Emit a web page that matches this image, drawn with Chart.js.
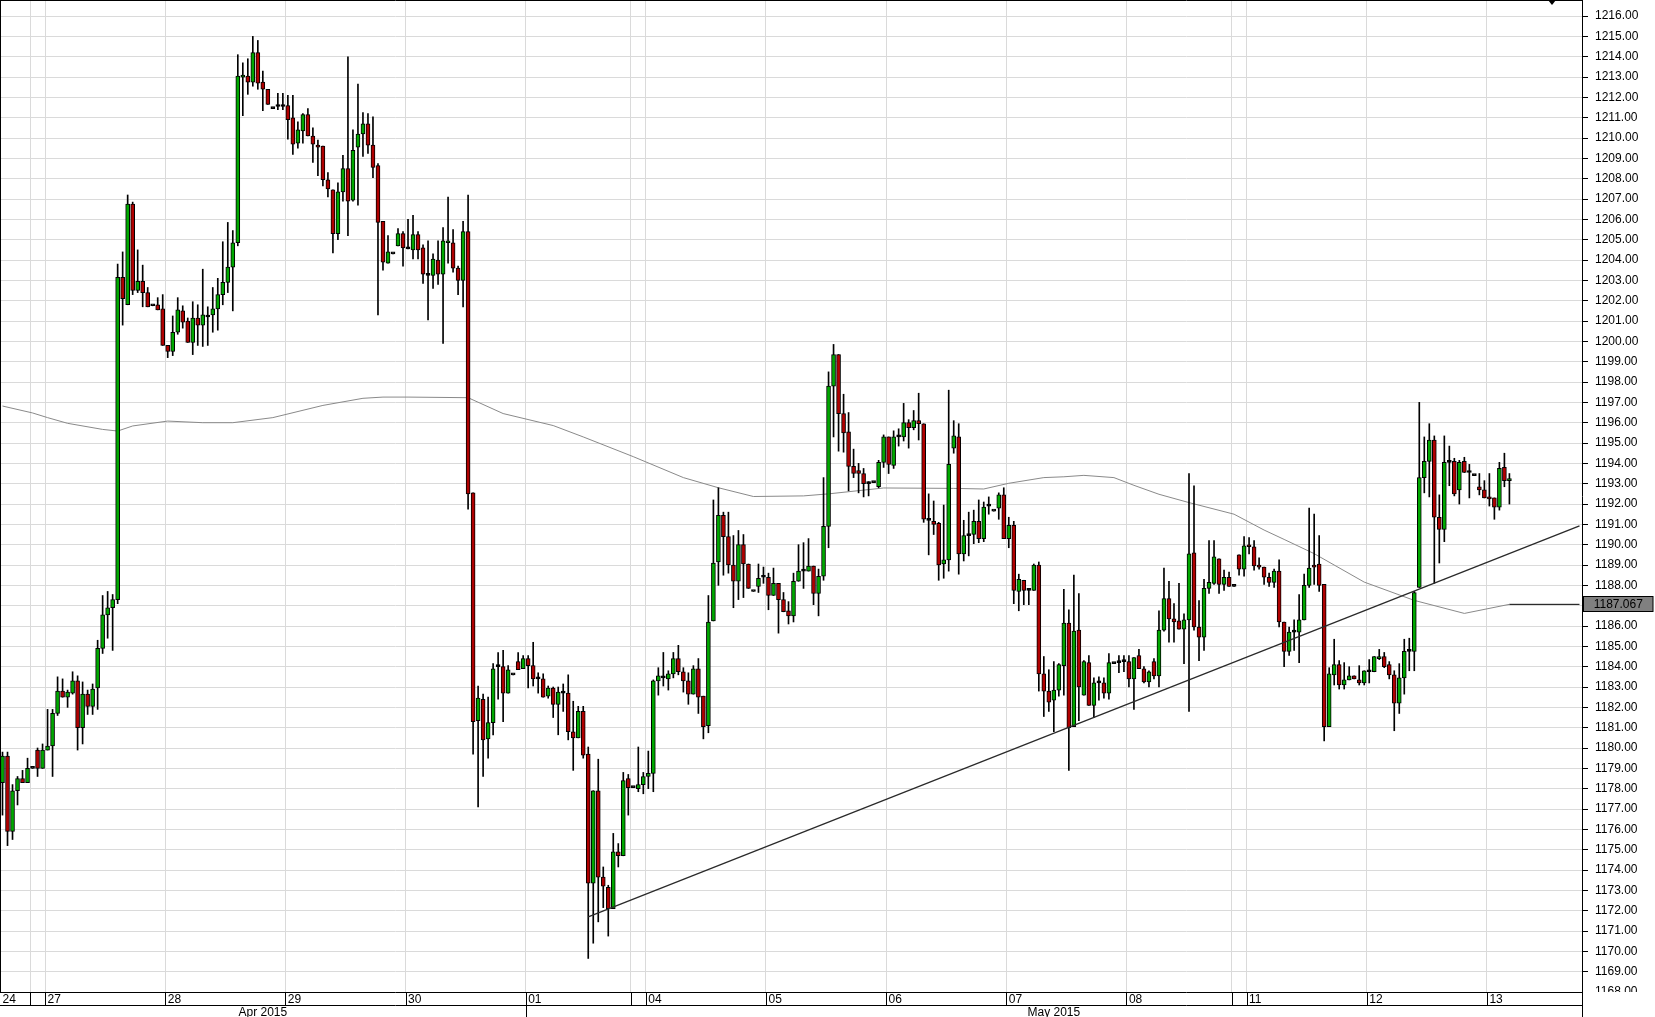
<!DOCTYPE html>
<html>
<head>
<meta charset="utf-8">
<script src="https://cdn.jsdelivr.net/npm/chart.js@4.4.1/dist/chart.umd.min.js"></script>
<style>
    html, body { margin: 0; padding: 0; background: #fff; }
    #wrap { width: 1655px; height: 1017px; position: relative; }
</style>
</head>
<body>
<div id="wrap"><canvas id="chart-gold"></canvas></div>
<script>
// first hourly slot of each day block and its label ("" = short sunday session)
const dayStarts = [0, 6, 9, 33, 57, 81, 105, 126, 129, 153, 177, 201, 225, 246, 249, 273, 297];
const dayLabels = ["24", "", "27", "28", "29", "30", "01", "", "04", "05", "06", "07", "08", "", "11", "12", "13"];
const monthStarts = [0, 105];
const monthLabels = ["Apr 2015", "May 2015"];
const slotCount = 316;

// hourly candles, one line per day block
const openVals = [
    1178.3, 1179.6, 1175.9, 1177.9, 1178.5, 1178.3,
    1179.0, 1179.9, 1179.0,
    1179.9, 1180.1, 1181.7, 1182.8, 1182.5, 1182.7, 1183.3, 1181.0, 1182.65, 1182.05, 1182.95, 1184.9, 1186.55, 1186.9, 1187.3, 1203.15, 1201.8, 1206.75, 1202.5, 1202.95, 1202.4, 1201.75, 1201.8, 1201.6,
    1199.8, 1199.5, 1200.45, 1201.5, 1201.0, 1199.95, 1201.15, 1200.8, 1201.2, 1201.3, 1201.6, 1202.3, 1202.9, 1203.65, 1204.85, 1213.0, 1213.05, 1212.75, 1214.2, 1212.75, 1212.4, 1211.45, 1211.55, 1211.55,
    1211.6, 1211.0, 1209.75, 1210.35, 1211.15, 1210.1, 1209.65, 1209.6, 1207.95, 1207.45, 1205.3, 1207.35, 1208.5, 1206.95, 1209.55, 1210.2, 1210.7, 1209.65, 1208.65, 1205.9, 1203.85, 1204.3, 1204.7, 1205.3,
    1204.55, 1204.5, 1205.25, 1204.6, 1203.25, 1203.25, 1204.0, 1203.3, 1204.85, 1204.85, 1203.6, 1203.0, 1205.4, 1192.55, 1181.35, 1182.4, 1180.45, 1181.25, 1184.0, 1184.0, 1182.7, 1183.6, 1184.25, 1183.9,
    1184.4, 1184.05, 1183.4, 1183.4, 1182.55, 1182.95, 1182.15, 1182.7, 1182.7, 1180.8, 1180.5, 1181.8, 1179.7, 1173.35, 1177.9, 1173.65, 1173.15, 1172.1, 1174.9, 1174.7, 1178.5,
    1178.05, 1178.0, 1178.2,
    1178.6, 1178.75, 1183.3, 1183.45, 1183.4, 1183.65, 1184.4, 1183.75, 1183.3, 1182.65, 1183.9, 1182.55, 1181.1, 1186.25, 1189.15, 1191.45, 1190.4, 1189.0, 1188.2, 1190.0, 1189.05, 1187.7, 1187.95, 1188.4,
    1188.4, 1187.5, 1188.1, 1187.3, 1186.75, 1186.5, 1188.2, 1188.7, 1188.7, 1188.95, 1187.6, 1188.45, 1190.9, 1197.8, 1199.35, 1196.45, 1195.55, 1193.85, 1193.65, 1193.5, 1193.0, 1193.05, 1192.85, 1194.05,
    1195.3, 1193.9, 1195.3, 1195.3, 1196.0, 1195.75, 1196.1, 1195.95, 1191.2, 1191.15, 1191.05, 1189.05, 1189.25, 1194.75, 1195.3, 1189.55, 1190.45, 1190.5, 1191.15, 1190.3, 1191.9, 1191.65, 1191.8, 1192.45,
    1190.3, 1190.95, 1187.7, 1188.25, 1187.75, 1187.75, 1189.0, 1183.65, 1182.8, 1182.35, 1182.85, 1184.05, 1186.15, 1181.05, 1185.8, 1182.6, 1184.2, 1182.1, 1183.2, 1183.2, 1182.7, 1184.15, 1184.2, 1184.25,
    1184.25, 1183.4, 1184.55, 1183.9, 1183.25, 1184.25, 1183.55, 1185.8, 1187.35, 1186.35, 1186.25, 1185.85, 1186.3, 1189.6, 1185.95, 1185.45, 1187.85, 1188.1, 1189.3, 1188.05, 1188.4,
    1187.95, 1189.5, 1188.8,
    1189.95, 1189.9, 1189.0, 1188.9, 1188.4, 1188.15, 1188.7, 1186.2, 1184.75, 1185.7, 1185.7, 1186.3, 1188.0, 1189.0, 1189.05, 1188.05, 1181.05, 1183.6, 1184.1, 1183.1, 1183.35, 1183.55, 1183.35, 1183.2,
    1183.75, 1183.75, 1184.4, 1184.5, 1184.1, 1183.6, 1182.2, 1183.45, 1184.75, 1184.75, 1187.9, 1193.3, 1194.1, 1195.15, 1191.35, 1190.75, 1194.05, 1194.1, 1192.7, 1194.1, 1193.55, 1193.4, 1192.85, 1192.7,
    1192.35, 1192.3, 1191.85, 1193.8, 1193.15
];
const highVals = [
    1179.8, 1179.8, 1178.2, 1178.6, 1178.9, 1179.5,
    1179.0, 1180.0, 1180.2,
    1181.9, 1181.9, 1183.5, 1183.4, 1182.85, 1183.75, 1183.55, 1183.25, 1182.85, 1183.15, 1185.3, 1187.5, 1187.7, 1187.55, 1203.8, 1204.4, 1207.2, 1206.85, 1204.5, 1203.75, 1202.65, 1201.75, 1202.15, 1202.3,
    1199.8, 1201.25, 1202.15, 1201.75, 1201.15, 1201.95, 1201.8, 1203.55, 1201.7, 1202.65, 1203.1, 1204.9, 1205.85, 1205.45, 1214.1, 1213.7, 1213.9, 1215.0, 1214.8, 1213.3, 1212.4, 1211.45, 1212.2, 1212.2,
    1212.1, 1212.1, 1210.8, 1211.2, 1211.45, 1210.5, 1209.9, 1209.6, 1208.3, 1207.45, 1207.8, 1209.15, 1214.0, 1210.4, 1212.65, 1211.25, 1211.2, 1211.05, 1208.75, 1205.9, 1205.2, 1204.3, 1205.55, 1205.4,
    1206.0, 1206.2, 1205.4, 1204.75, 1204.95, 1204.3, 1204.95, 1205.6, 1207.1, 1205.5, 1203.7, 1205.9, 1207.2, 1192.55, 1183.05, 1182.65, 1182.5, 1184.15, 1184.7, 1184.8, 1184.05, 1183.6, 1184.7, 1184.55,
    1184.55, 1185.2, 1183.7, 1183.65, 1183.05, 1183.0, 1183.0, 1183.15, 1183.6, 1182.3, 1182.05, 1182.05, 1180.05, 1177.9, 1179.45, 1174.15, 1173.25, 1175.8, 1175.3, 1178.8, 1178.7,
    1178.05, 1180.05, 1178.8,
    1179.85, 1183.35, 1183.95, 1184.7, 1183.8, 1184.7, 1185.05, 1183.95, 1183.7, 1184.05, 1184.4, 1182.55, 1187.5, 1192.2, 1192.8, 1191.6, 1191.6, 1190.45, 1190.7, 1190.5, 1189.05, 1187.7, 1189.05, 1188.9,
    1188.6, 1188.85, 1188.1, 1187.65, 1187.2, 1188.6, 1190.0, 1190.1, 1190.3, 1188.95, 1188.8, 1193.3, 1198.5, 1199.85, 1199.35, 1197.4, 1196.5, 1194.7, 1194.0, 1193.75, 1193.1, 1193.05, 1194.15, 1195.4,
    1195.3, 1195.6, 1195.7, 1196.95, 1196.15, 1196.6, 1197.45, 1195.95, 1192.5, 1192.15, 1191.1, 1191.95, 1197.6, 1196.1, 1195.95, 1191.2, 1191.6, 1191.7, 1192.2, 1192.1, 1192.35, 1191.65, 1192.55, 1192.8,
    1191.35, 1191.15, 1188.55, 1188.25, 1187.8, 1189.05, 1189.15, 1184.5, 1183.85, 1184.25, 1184.15, 1187.8, 1186.8, 1188.5, 1187.6, 1184.3, 1184.55, 1183.45, 1183.5, 1183.45, 1184.65, 1184.15, 1184.55, 1184.55,
    1184.55, 1184.45, 1184.85, 1184.0, 1183.8, 1184.4, 1186.75, 1188.85, 1188.2, 1187.1, 1188.1, 1186.6, 1193.5, 1192.9, 1187.25, 1188.3, 1190.2, 1190.2, 1189.3, 1188.75, 1188.65,
    1187.95, 1189.5, 1190.4,
    1190.35, 1190.2, 1189.35, 1188.9, 1188.6, 1188.8, 1189.25, 1186.2, 1185.95, 1186.3, 1187.55, 1188.55, 1191.8, 1191.5, 1190.45, 1188.05, 1183.95, 1185.35, 1184.3, 1184.2, 1184.0, 1183.55, 1184.05, 1183.8,
    1184.35, 1184.5, 1184.85, 1184.7, 1184.25, 1183.8, 1184.15, 1185.35, 1185.4, 1187.7, 1197.0, 1195.3, 1195.95, 1195.35, 1192.45, 1195.35, 1194.85, 1194.25, 1194.15, 1194.3, 1193.95, 1193.4, 1193.5, 1193.15,
    1193.5, 1192.3, 1194.05, 1194.5, 1193.5
];
const lowVals = [
    1176.7, 1175.2, 1175.5, 1177.2, 1178.3, 1178.3,
    1179.0, 1178.6, 1179.0,
    1179.9, 1178.6, 1181.6, 1182.5, 1182.0, 1182.65, 1179.9, 1180.2, 1181.65, 1181.65, 1181.9, 1184.65, 1185.4, 1184.8, 1187.1, 1200.8, 1201.8, 1202.3, 1202.4, 1201.7, 1201.7, 1201.75, 1201.55, 1199.8,
    1199.2, 1199.3, 1200.35, 1200.65, 1199.95, 1199.35, 1199.8, 1199.75, 1199.8, 1200.45, 1200.55, 1201.8, 1202.4, 1201.5, 1204.7, 1211.1, 1212.15, 1212.55, 1212.4, 1211.35, 1211.65, 1211.45, 1211.4, 1211.4,
    1209.95, 1209.2, 1209.5, 1209.75, 1210.1, 1208.8, 1208.15, 1207.65, 1207.1, 1204.35, 1205.0, 1206.9, 1205.2, 1206.9, 1206.7, 1209.1, 1209.25, 1208.05, 1201.3, 1203.5, 1203.85, 1204.3, 1204.7, 1203.7,
    1204.55, 1204.05, 1204.05, 1202.85, 1201.05, 1202.6, 1202.8, 1199.9, 1203.85, 1203.4, 1202.3, 1201.7, 1191.75, 1179.7, 1177.1, 1178.6, 1179.5, 1180.65, 1182.4, 1181.3, 1182.7, 1183.6, 1183.85, 1183.9,
    1182.95, 1183.05, 1182.7, 1182.5, 1182.45, 1181.5, 1180.65, 1181.8, 1180.4, 1178.9, 1180.5, 1179.5, 1169.65, 1170.4, 1171.45, 1172.15, 1170.75, 1172.1, 1174.15, 1174.7, 1176.7,
    1178.05, 1177.85, 1177.75,
    1178.0, 1177.85, 1182.6, 1183.05, 1182.85, 1183.45, 1183.6, 1182.75, 1182.15, 1182.65, 1181.7, 1180.45, 1180.75, 1186.25, 1188.0, 1188.5, 1188.6, 1186.9, 1187.3, 1187.4, 1187.85, 1187.7, 1187.65, 1188.1,
    1186.8, 1187.5, 1185.65, 1186.7, 1186.1, 1186.2, 1188.2, 1187.85, 1188.7, 1187.05, 1186.5, 1188.25, 1189.85, 1195.3, 1194.6, 1194.55, 1192.65, 1193.3, 1192.55, 1192.35, 1192.4, 1193.05, 1192.8, 1193.8,
    1193.5, 1193.75, 1194.85, 1195.1, 1194.75, 1195.65, 1195.15, 1191.1, 1189.5, 1190.5, 1188.25, 1188.35, 1188.7, 1194.5, 1188.55, 1189.2, 1189.45, 1190.05, 1190.1, 1190.15, 1191.5, 1191.65, 1191.25, 1190.3,
    1189.85, 1187.1, 1186.75, 1187.05, 1187.05, 1187.75, 1182.8, 1181.55, 1181.8, 1180.8, 1182.55, 1182.6, 1178.9, 1181.05, 1181.35, 1182.6, 1182.1, 1181.5, 1182.35, 1182.45, 1182.4, 1184.15, 1183.7, 1183.75,
    1183.0, 1181.9, 1183.9, 1183.2, 1183.0, 1183.4, 1183.0, 1185.75, 1185.2, 1185.2, 1185.85, 1184.15, 1181.8, 1185.8, 1184.3, 1184.8, 1187.6, 1188.05, 1187.6, 1187.75, 1187.95,
    1187.95, 1188.5, 1188.45,
    1189.55, 1188.75, 1188.8, 1188.05, 1187.95, 1187.9, 1185.95, 1184.0, 1184.55, 1184.8, 1184.2, 1186.3, 1187.9, 1188.05, 1187.7, 1180.35, 1181.05, 1183.1, 1182.9, 1182.9, 1183.35, 1183.4, 1183.1, 1183.1,
    1183.2, 1183.75, 1184.35, 1183.95, 1183.4, 1180.85, 1181.7, 1182.65, 1183.8, 1183.8, 1187.9, 1192.55, 1192.35, 1188.1, 1189.1, 1190.15, 1192.9, 1192.4, 1192.0, 1193.55, 1192.3, 1193.4, 1192.45, 1192.3,
    1191.9, 1191.25, 1191.7, 1192.85, 1192.0
];
const closeVals = [
    1179.6, 1175.9, 1177.9, 1178.5, 1178.3, 1179.0,
    1179.0, 1179.0, 1179.9,
    1180.1, 1181.7, 1182.8, 1182.5, 1182.75, 1183.3, 1181.0, 1182.65, 1182.05, 1182.9, 1184.9, 1186.55, 1186.9, 1187.3, 1203.15, 1202.1, 1206.75, 1202.5, 1202.95, 1202.4, 1201.7, 1201.75, 1201.55, 1199.8,
    1199.5, 1200.45, 1201.55, 1200.95, 1199.95, 1201.15, 1200.8, 1201.3, 1201.2, 1201.6, 1202.3, 1202.9, 1203.65, 1204.85, 1213.05, 1213.1, 1212.75, 1214.2, 1212.7, 1212.4, 1211.65, 1211.45, 1211.55, 1211.55,
    1210.9, 1209.7, 1210.4, 1211.15, 1210.1, 1209.7, 1209.55, 1207.95, 1207.5, 1205.3, 1207.35, 1208.5, 1206.9, 1209.4, 1210.2, 1210.7, 1209.65, 1208.55, 1205.85, 1203.9, 1204.4, 1204.3, 1205.3, 1204.6,
    1204.55, 1205.25, 1204.5, 1203.3, 1203.25, 1204.05, 1203.3, 1204.95, 1204.95, 1203.6, 1203.0, 1205.4, 1192.5, 1181.3, 1182.45, 1180.4, 1181.25, 1183.9, 1184.0, 1182.7, 1183.85, 1183.6, 1183.85, 1184.4,
    1184.05, 1183.4, 1183.4, 1182.5, 1182.95, 1182.15, 1182.75, 1182.7, 1180.8, 1180.5, 1181.8, 1179.65, 1173.35, 1177.9, 1173.65, 1173.2, 1172.1, 1174.9, 1174.7, 1178.4, 1178.05,
    1178.05, 1178.2, 1178.6,
    1178.75, 1183.3, 1183.55, 1183.45, 1183.65, 1184.4, 1183.75, 1183.3, 1182.65, 1183.9, 1182.5, 1181.05, 1186.2, 1189.1, 1191.45, 1190.4, 1189.0, 1188.2, 1190.0, 1189.05, 1187.85, 1187.7, 1188.35, 1188.4,
    1187.5, 1188.1, 1187.3, 1186.7, 1186.5, 1188.2, 1188.7, 1188.7, 1188.95, 1187.6, 1188.45, 1190.9, 1197.8, 1199.35, 1196.45, 1195.5, 1193.85, 1193.5, 1193.5, 1193.0, 1193.0, 1193.05, 1194.05, 1195.3,
    1193.95, 1195.3, 1195.3, 1196.0, 1195.75, 1196.1, 1195.95, 1191.25, 1191.2, 1191.0, 1189.0, 1189.25, 1193.95, 1195.35, 1189.55, 1190.45, 1190.45, 1191.15, 1190.3, 1191.85, 1191.9, 1191.65, 1192.45, 1190.3,
    1190.95, 1187.75, 1188.3, 1187.75, 1187.75, 1189.0, 1183.65, 1182.8, 1182.25, 1182.85, 1184.1, 1186.15, 1181.0, 1185.75, 1183.0, 1184.25, 1182.1, 1183.2, 1183.2, 1182.7, 1184.2, 1184.15, 1184.2, 1184.25,
    1183.4, 1184.45, 1183.9, 1183.25, 1183.75, 1183.55, 1185.8, 1187.35, 1186.35, 1186.2, 1185.85, 1186.3, 1189.55, 1185.95, 1185.45, 1187.85, 1188.15, 1189.4, 1188.05, 1188.4, 1187.95,
    1187.95, 1188.8, 1189.95,
    1189.9, 1188.95, 1188.9, 1188.4, 1188.15, 1188.7, 1186.2, 1184.75, 1185.7, 1185.7, 1186.3, 1188.0, 1188.85, 1188.9, 1188.0, 1181.05, 1183.65, 1184.1, 1183.1, 1183.35, 1183.55, 1183.4, 1183.2, 1183.8,
    1183.75, 1184.5, 1184.5, 1184.0, 1183.6, 1182.2, 1183.45, 1184.75, 1184.75, 1187.65, 1193.3, 1194.1, 1195.15, 1191.35, 1190.75, 1194.05, 1194.05, 1192.5, 1194.05, 1193.55, 1193.55, 1193.4, 1192.7, 1192.3,
    1192.25, 1191.85, 1193.75, 1193.15, 1193.25
];

// moving average, read at these candle slots
const maIdx = [0, 6, 9, 13, 20, 23, 26, 33, 40, 46, 54, 64, 72, 76, 81, 93, 100, 110, 116, 126, 136, 143, 150, 160, 165, 176, 190, 196, 201, 208, 212, 216, 222, 226, 231, 237, 246, 252, 256, 262, 272, 282, 292, 301];
const maVals = [1196.82, 1196.48, 1196.25, 1195.97, 1195.67, 1195.59, 1195.84, 1196.08, 1196.0, 1196.0, 1196.25, 1196.85, 1197.2, 1197.26, 1197.26, 1197.23, 1196.45, 1195.86, 1195.3, 1194.33, 1193.3, 1192.8, 1192.37, 1192.4, 1192.5, 1192.79, 1192.77, 1192.74, 1193.02, 1193.3, 1193.34, 1193.41, 1193.3, 1192.92, 1192.48, 1192.07, 1191.5, 1190.72, 1190.26, 1189.56, 1188.16, 1187.26, 1186.62, 1187.067];
const maLast = 1187.067;

// support trend line
const trendIdx = [117, 315];
const trendVals = [1171.7, 1190.93];

const chartGold = document.getElementById("chart-gold");
const n = openVals.length;

// category slots, one per hour
const categories = [];
for (let i = 0; i < slotCount; i++) {
    let d = 0;
    while (d + 1 < dayStarts.length && dayStarts[d + 1] <= i) d++;
    categories.push((dayLabels[d] || "Sun") + " " + (i - dayStarts[d]));
}

const bodies = openVals.map((o, i) => [o, closeVals[i]]);
const wicks = highVals.map((h, i) => [
    Math.min(lowVals[i], openVals[i], closeVals[i]),
    Math.max(h, openVals[i], closeVals[i])
]);

const maData = new Array(slotCount).fill(null);
maIdx.forEach((k, j) => { maData[k] = maVals[j]; });
const maExt = new Array(slotCount).fill(null);
maExt[n - 1] = maLast;
maExt[slotCount - 1] = maLast;
const trendData = new Array(slotCount).fill(null);
trendIdx.forEach((k, j) => { trendData[k] = trendVals[j]; });

function bodyColor(ctx) {
    const i = ctx.dataIndex;
    if (closeVals[i] > openVals[i]) return "#00a800";
    if (closeVals[i] < openVals[i]) return "#b00000";
    return "#000";
}

function noPad(scale) {
    scale.paddingTop = 0;
    scale.paddingBottom = 0;
    scale.paddingLeft = 0;
    scale.paddingRight = 0;
}

const framePlugin = {
    id: "frame",
    beforeDraw(chart) {
        const ctx = chart.ctx;
        ctx.save();
        ctx.fillStyle = "#fff";
        ctx.fillRect(0, 0, chart.width, chart.height);
        ctx.restore();
    },
    afterDraw(chart) {
        const ctx = chart.ctx;
        const area = chart.chartArea;
        const xs = chart.scales.x;
        const ys = chart.scales.y;
        const slotW = xs.width / slotCount;
        const edge = (s) => Math.round(xs.getPixelForValue(s) - slotW / 2) + 0.5;

        ctx.save();
        // the lowest price label is cut by the date rows
        ctx.fillStyle = "#fff";
        ctx.fillRect(area.right + 1, area.bottom, chart.width - area.right, chart.height - area.bottom);

        ctx.strokeStyle = "#000";
        ctx.lineWidth = 1;
        ctx.beginPath();
        ctx.moveTo(0.5, 0);
        ctx.lineTo(0.5, area.bottom);
        ctx.moveTo(0, 0.5);
        ctx.lineTo(area.right, 0.5);
        ctx.moveTo(0, area.bottom + 0.5);
        ctx.lineTo(area.right, area.bottom + 0.5);
        const rowY = Math.round(xs.bottom) + 0.5;
        ctx.moveTo(0, rowY);
        ctx.lineTo(area.right, rowY);
        dayStarts.forEach((s) => {
            if (s === 0) return;
            ctx.moveTo(edge(s), area.bottom);
            ctx.lineTo(edge(s), rowY);
        });
        monthStarts.forEach((s) => {
            if (s === 0) return;
            ctx.moveTo(edge(s), rowY);
            ctx.lineTo(edge(s), chart.height);
        });
        ctx.moveTo(Math.round(area.right) + 0.5, area.bottom);
        ctx.lineTo(Math.round(area.right) + 0.5, chart.height);
        ctx.stroke();

        // current value box of the moving average
        const py = Math.round(ys.getPixelForValue(maLast));
        const bx = Math.round(area.right) + 1.5;
        const bw = chart.width - bx - 2;
        ctx.fillStyle = "#808080";
        ctx.fillRect(bx, py - 7.5, bw, 15);
        ctx.strokeRect(bx, py - 7.5, bw, 15);
        ctx.fillStyle = "#000";
        ctx.font = "12px 'Liberation Sans', Arial, sans-serif";
        ctx.textAlign = "center";
        ctx.textBaseline = "middle";
        ctx.fillText(maLast.toFixed(3), bx + bw / 2, py + 0.5);

        // small marker at the top
        const tx = area.right - 30;
        ctx.beginPath();
        ctx.moveTo(tx - 4, 0);
        ctx.lineTo(tx + 4, 0);
        ctx.lineTo(tx, 5);
        ctx.closePath();
        ctx.fill();
        ctx.restore();
    }
};

new Chart(chartGold, {
    type: "bar",
    data: {
        labels: categories,
        datasets: [
            {
                type: "line",
                label: "Trend",
                data: trendData,
                borderColor: "#2a2a2a",
                borderWidth: 1.3,
                pointRadius: 0,
                spanGaps: true,
                tension: 0
            },
            {
                type: "line",
                label: "MA last",
                data: maExt,
                borderColor: "#000",
                borderWidth: 1,
                pointRadius: 0,
                spanGaps: true
            },
            {
                label: "Body",
                data: bodies,
                backgroundColor: bodyColor,
                borderColor: "#000",
                borderWidth: 1,
                borderSkipped: false,
                barThickness: 4,
                minBarLength: 2,
                grouped: false
            },
            {
                label: "Wick",
                data: wicks,
                backgroundColor: "#000",
                borderWidth: 0,
                barThickness: 1,
                grouped: false
            },
            {
                type: "line",
                label: "MA",
                data: maData,
                borderColor: "#8a8a8a",
                borderWidth: 1,
                pointRadius: 0,
                spanGaps: true,
                tension: 0
            }
        ]
    },
    options: {
        responsive: true,
        maintainAspectRatio: false,
        animation: false,
        devicePixelRatio: 1,
        events: [],
        layout: { padding: 0 },
        plugins: {
            legend: { display: false },
            tooltip: { enabled: false },
            title: { display: false }
        },
        scales: {
            x: {
                type: "category",
                position: "bottom",
                weight: 0,
                offset: true,
                grid: {
                    offset: true,
                    drawTicks: false,
                    color: (c) => (dayStarts.includes(c.index) ? "#dadada" : "rgba(0,0,0,0)")
                },
                border: { display: false },
                ticks: {
                    autoSkip: false,
                    maxRotation: 0,
                    minRotation: 0,
                    align: "start",
                    padding: 0,
                    color: "#000",
                    font: { family: "'Liberation Sans', Arial, sans-serif", size: 12 },
                    callback: function (value, index) {
                        const d = dayStarts.indexOf(index);
                        return d >= 0 ? dayLabels[d] : "";
                    }
                },
                afterFit: (scale) => { scale.height = 13; noPad(scale); }
            },
            x2: {
                type: "category",
                position: "bottom",
                weight: 1,
                offset: true,
                grid: { display: false, drawTicks: false },
                border: { display: false },
                ticks: {
                    autoSkip: false,
                    maxRotation: 0,
                    minRotation: 0,
                    padding: 0,
                    color: "#000",
                    font: { family: "'Liberation Sans', Arial, sans-serif", size: 12 },
                    callback: function (value, index) {
                        for (let m = 0; m < monthStarts.length; m++) {
                            const end = m + 1 < monthStarts.length ? monthStarts[m + 1] - 1 : slotCount - 1;
                            if (index === Math.floor((monthStarts[m] + end) / 2)) return monthLabels[m];
                        }
                        return "";
                    }
                },
                afterFit: (scale) => { scale.height = 12; noPad(scale); }
            },
            y: {
                type: "linear",
                position: "right",
                min: 1168,
                max: 1216.79,
                grid: {
                    color: "#dadada",
                    tickColor: "#000",
                    tickLength: 6,
                    drawTicks: true
                },
                border: { display: true, color: "#000", width: 1 },
                ticks: {
                    stepSize: 1,
                    includeBounds: false,
                    autoSkip: false,
                    padding: 7,
                    color: "#000",
                    font: { family: "'Liberation Sans', Arial, sans-serif", size: 12 },
                    callback: (v) => Number(v).toFixed(2)
                },
                afterFit: (scale) => { scale.width = 73; noPad(scale); }
            }
        }
    },
    plugins: [framePlugin]
});
</script>
</body>
</html>
